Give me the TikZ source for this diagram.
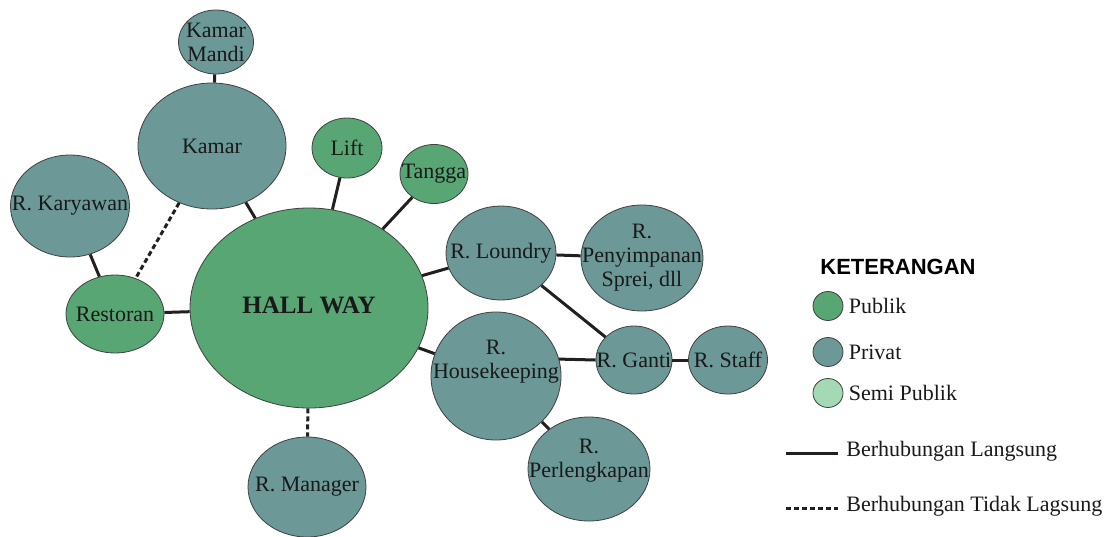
\documentclass[tikz,border=0pt]{standalone}
\usepackage{fontspec}
\setmainfont{Liberation Serif}
\newfontfamily\ketfont{Liberation Sans}
\usetikzlibrary{shapes.geometric}

\definecolor{publik}{HTML}{58A673}
\definecolor{privat}{HTML}{6C9898}
\definecolor{semipublik}{HTML}{A3D9B5}
\definecolor{garis}{HTML}{231F20}

\begin{document}
\begin{tikzpicture}[x=0.5pt,y=-0.5pt,
    ruang/.style={ellipse,draw=black!75,line width=0.4pt,inner sep=0pt},
    pub/.style={ruang,fill=publik},
    priv/.style={ruang,fill=privat},
    semi/.style={ruang,fill=semipublik},
    teks/.style={align=center,inner sep=0pt,font=\fontsize{11}{12}\selectfont,text=black!90},
    langsung/.style={line width=1.5pt,draw=garis},
    tidak/.style={langsung,dash pattern=on 2.5pt off 1.5pt}]
  \useasboundingbox (0,0) rectangle (1112,536);

  \node[priv,minimum width=37.5pt,minimum height=32pt,label={[teks]center:{Kamar\\Mandi}}] (mandi) at (216,42) {};
  \node[priv,minimum width=74pt,minimum height=63pt,label={[teks]center:Kamar}] (kamar) at (212,146) {};
  \node[pub,minimum width=35pt,minimum height=30pt,label={[teks]center:Lift}] (lift) at (347,148) {};
  \node[pub,minimum width=34pt,minimum height=29.5pt,label={[teks]center:Tangga}] (tangga) at (434,174) {};
  \node[priv,minimum width=59.5pt,minimum height=51pt,label={[teks]center:R. Karyawan}] (karyawan) at (70,206) {};
  \node[pub,minimum width=49pt,minimum height=39pt,label={[teks]center:Restoran}] (restoran) at (115,314) {};
  \node[pub,minimum width=119pt,minimum height=100pt,label={[teks,yshift=1.5pt,font=\fontsize{12.5}{14}\selectfont\bfseries]center:HALL WAY}] (hall) at (309,308) {};
  \node[priv,minimum width=55pt,minimum height=47pt,label={[teks]center:R. Loundry}] (loundry) at (501,253) {};
  \node[priv,minimum width=61pt,minimum height=53pt,label={[teks]center:{R.\\Penyimpanan\\Sprei, dll}}] (penyimpanan) at (642,258) {};
  \node[priv,minimum width=65pt,minimum height=64pt,label={[teks,yshift=7pt]center:{R.\\Housekeeping}}] (hk) at (496,376) {};
  \node[priv,minimum width=38pt,minimum height=34pt,label={[teks]center:R. Ganti}] (ganti) at (634,360) {};
  \node[priv,minimum width=39.5pt,minimum height=34pt,label={[teks]center:R. Staff}] (staff) at (728,360) {};
  \node[priv,minimum width=61pt,minimum height=52pt,label={[teks,yshift=4pt]center:{R.\\Perlengkapan}}] (perlengkapan) at (589,469) {};
  \node[priv,minimum width=59pt,minimum height=50pt,label={[teks]center:R. Manager}] (manager) at (307,487) {};

  \draw[langsung] (mandi) -- (kamar);
  \draw[langsung] (kamar) -- (hall);
  \draw[langsung] (lift) -- (hall);
  \draw[langsung] (tangga) -- (hall);
  \draw[langsung] (karyawan) -- (restoran);
  \draw[tidak] (kamar) -- (restoran);
  \draw[langsung] (restoran) -- (hall);
  \draw[langsung] (hall) -- (loundry);
  \draw[langsung] (loundry) -- (penyimpanan);
  \draw[langsung] (loundry) -- (ganti);
  \draw[langsung] (hall) -- (hk);
  \draw[langsung] (hk.15) -- (ganti.west);
  \draw[langsung] (ganti) -- (staff);
  \draw[langsung] (hk) -- (perlengkapan);
  \draw[tidak] (hall) -- (manager);

  \node[anchor=west,inner sep=0pt,font=\ketfont\bfseries\fontsize{11}{12}\selectfont] (ket) at (820,267) {KETERANGAN};
  \node[pub,minimum width=15pt,minimum height=14.5pt] (lpub) at (828,306) {};
  \node[teks,anchor=west,xshift=2.5pt] (tpub) at (lpub.east) {Publik};
  \node[priv,minimum width=15pt,minimum height=14.5pt] (lpriv) at (828,352) {};
  \node[teks,anchor=west,xshift=2.5pt] (tpriv) at (lpriv.east) {Privat};
  \node[semi,minimum width=15pt,minimum height=14.5pt] (lsemi) at (828,393) {};
  \node[teks,anchor=west,xshift=2.5pt] (tsemi) at (lsemi.east) {Semi Publik};
  \coordinate (la) at (786,453);
  \coordinate (lb) at (838,453);
  \draw[langsung] (la) -- (lb);
  \node[teks,anchor=west] (tla) at (846,451) {Berhubungan Langsung};
  \coordinate (ta) at (786,508);
  \coordinate (tb) at (838,508);
  \draw[tidak] (ta) -- (tb);
  \node[teks,anchor=west] (ttb) at (846,506) {Berhubungan Tidak Lagsung};
\end{tikzpicture}
\end{document}
